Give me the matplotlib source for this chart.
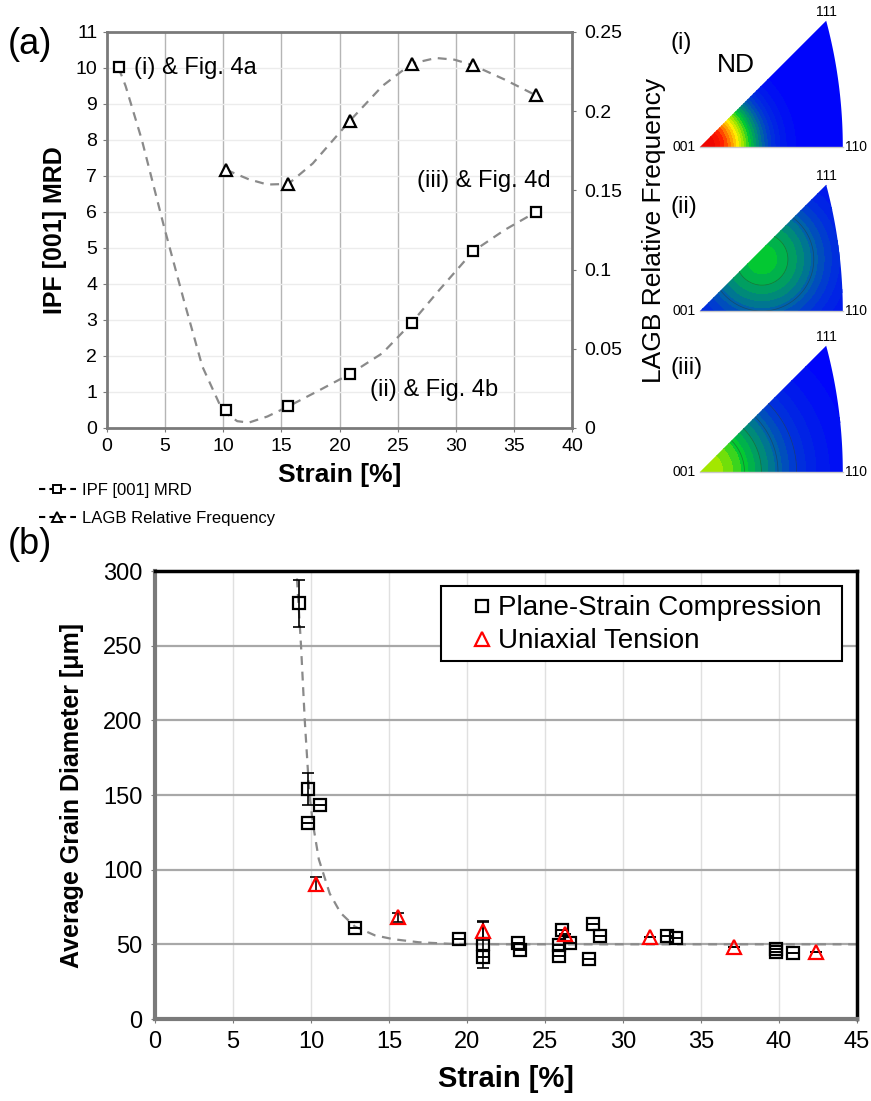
import numpy as np
import matplotlib
matplotlib.use('Agg')
import matplotlib.pyplot as plt
from matplotlib.lines import Line2D
from matplotlib.patches import Polygon, Rectangle
from matplotlib.colors import LinearSegmentedColormap

plt.rcParams['font.family'] = ['Liberation Sans', 'DejaVu Sans']

# ---- panel (a) data ----
strain_a = [1.0, 10.25, 15.6, 20.9, 26.2, 31.5, 36.9]
ipf_mrd = [10.02, 0.51, 0.60, 1.50, 2.92, 4.91, 6.01]
lagb_strain = [10.25, 15.6, 20.9, 26.2, 31.5, 36.9]
lagb_freq = [0.163, 0.154, 0.194, 0.230, 0.229, 0.210]

# trend lines
ipf_fit_x = [1.0, 1.6, 3.0, 4.9, 6.6, 8.2, 9.7, 10.5, 11.2, 12.2, 13.8, 15.6, 18.1, 20.9, 23.7, 26.2, 28.6, 31.5, 34.2, 36.9]
ipf_fit_y = [10.0, 9.5, 8.0, 5.6, 3.56, 1.71, 0.65, 0.35, 0.19, 0.15, 0.32, 0.60, 1.02, 1.50, 2.08, 2.92, 3.84, 4.91, 5.50, 6.00]
lagb_fit_x = [10.25, 12.2, 13.8, 15.6, 17.7, 20.9, 23.7, 26.2, 28.3, 29.9, 31.5, 34.2, 36.9]
lagb_fit_y = [0.163, 0.157, 0.1537, 0.1541, 0.167, 0.194, 0.216, 0.230, 0.2336, 0.2325, 0.229, 0.220, 0.210]

# ---- panel (b) data ----
psc_strain = [9.2, 9.8, 9.8, 10.6, 12.8, 19.5, 21.0, 21.0, 23.3, 23.4, 25.9, 25.9, 26.1, 26.6, 27.8, 28.1, 28.5, 32.8, 33.4, 39.8, 39.8, 40.9]
psc_diam = [278.8, 154, 131, 143.5, 60.8, 53.4, 50.3, 41.8, 51.2, 46.3, 49.6, 42.3, 59.7, 50.7, 40.5, 63.5, 55.7, 55.9, 54.1, 46.7, 45.2, 44.0]
psc_err_lo = [16, 11, 0, 0, 0, 0, 16, 0, 0, 0, 0, 0, 0, 0, 0, 0, 0, 0, 0, 0, 0, 0]
psc_err_hi = [15, 11, 0, 0, 0, 0, 15, 0, 0, 0, 0, 0, 0, 0, 0, 0, 0, 0, 0, 0, 0, 0]
ut_strain = [10.3, 15.6, 21.0, 26.3, 31.7, 37.1, 42.4]
ut_diam = [90.5, 68.2, 59.2, 57.0, 55.2, 48.5, 44.7]
ut_err = [4.5, 3, 6, 0, 0, 0, 0]
fit_b_x = [9.1, 9.36, 9.6, 9.9, 10.15, 10.5, 11.2, 11.9, 12.8, 14.1, 15.3, 16.9, 19.0, 22.0, 45.0]
fit_b_y = [295, 250, 200, 150, 129, 107, 84, 71, 62, 56, 53.4, 51.4, 50.3, 50.0, 50.0]

# ---- IPF maps: peak position, peak level, width, shape ----
ipf_labels = ['(i)', '(ii)', '(iii)']
ipf_peak_x = [0.0, 0.18, 0.0]
ipf_peak_y = [0.0, 0.15, 0.0]
ipf_level = [1.0, 0.5, 0.64]
ipf_width = [0.168, 0.21, 0.26]
ipf_power = [2.33, 2.0, 2.0]
ipf_lines = [[], [0.3, 0.44], [0.2, 0.3, 0.4, 0.5]]

ipf_cmap = LinearSegmentedColormap.from_list('ipf', [
    (0.0, (0.0, 0.0, 1.0)), (0.2, (0.0, 0.2, 0.85)), (0.32, (0.0, 0.42, 0.62)),
    (0.42, (0.0, 0.62, 0.38)), (0.5, (0.0, 0.78, 0.2)), (0.6, (0.55, 0.9, 0.0)),
    (0.7, (1.0, 0.93, 0.0)), (0.8, (1.0, 0.55, 0.0)), (0.9, (1.0, 0.12, 0.0)),
    (1.0, (0.92, 0.0, 0.0))])

W, H = 871, 1101
fig = plt.figure(figsize=(W / 100, H / 100), dpi=100)

def px_axes(left, top, right, bottom):
    return fig.add_axes([left / W, 1 - bottom / H, (right - left) / W, (bottom - top) / H])

gray = '#7a7a7a'
dash_col = '#8a8a8a'

# ================= panel (a) =================
ax = px_axes(107, 32, 572, 428)
ax.set_xlim(0, 40)
ax.set_ylim(0, 11)
ax.set_xticks(range(0, 41, 5))
ax.set_yticks(range(0, 12))
for v in range(5, 40, 5):
    ax.axvline(v, color='#b5b5b5', lw=1, zorder=0)
for v in range(1, 11):
    ax.axhline(v, color='#ececec', lw=1, zorder=0)
ax.plot(ipf_fit_x, ipf_fit_y, ls=(0, (4, 3)), color=dash_col, lw=1.6, zorder=2)
ax.plot(strain_a, ipf_mrd, ls='none', marker='s', ms=6.5, mfc='white', mec='black', mew=1.6, zorder=3)
for s in ax.spines.values():
    s.set_color(gray)
    s.set_linewidth(2)
ax.tick_params(axis='both', length=3, color=gray, labelsize=14, pad=4)
ax.set_xlabel('Strain [%]', fontsize=19, fontweight='bold', labelpad=6)
ax.set_ylabel('IPF [001] MRD', fontsize=18, fontweight='bold', labelpad=6)
ax.text(2.3, 10.0, '(i) & Fig. 4a', fontsize=17, va='center', ha='left')
ax.text(38.2, 6.85, '(iii) & Fig. 4d', fontsize=17, va='center', ha='right')
ax.text(22.6, 1.05, '(ii) & Fig. 4b', fontsize=17, va='center', ha='left')

ax2 = ax.twinx()
ax2.set_ylim(0, 0.25)
ax2.set_yticks([0, 0.05, 0.1, 0.15, 0.2, 0.25])
ax2.set_yticklabels(['0', '0.05', '0.1', '0.15', '0.2', '0.25'])
ax2.plot(lagb_fit_x, lagb_fit_y, ls=(0, (4, 3)), color=dash_col, lw=1.6, zorder=2)
ax2.plot(lagb_strain, lagb_freq, ls='none', marker='^', ms=8.5, mfc='white', mec='black', mew=1.6, zorder=3)
for s in ax2.spines.values():
    s.set_visible(False)
ax2.tick_params(axis='y', length=3, color=gray, labelsize=14, pad=6)
ax2.set_ylabel('LAGB Relative Frequency', fontsize=19, labelpad=14)

fig.text(8 / W, 1 - 45 / H, '(a)', fontsize=26, va='center', ha='left')

handles_a = [
    Line2D([], [], ls=(0, (3, 2)), color='black', lw=1.5, marker='s', ms=6, mfc='white', mec='black', mew=1.4),
    Line2D([], [], ls=(0, (3, 2)), color='black', lw=1.5, marker='^', ms=7, mfc='white', mec='black', mew=1.4),
]
fig.legend(handles_a, ['IPF [001] MRD', 'LAGB Relative Frequency'], loc='upper left',
           bbox_to_anchor=(24 / W, 1 - 468 / H), frameon=False, fontsize=12,
           handlelength=2.2, handletextpad=0.4, labelspacing=0.75)

# ================= IPF triangles =================
R2 = np.sqrt(2)
ang = np.linspace(0, np.arctan2(0.366, 1.366), 40)
tri_x = [0.0] + list(-1 + R2 * np.cos(ang)) + [0.0]
tri_y = [0.0] + list(R2 * np.sin(ang)) + [0.0]
gx, gy = np.meshgrid(np.linspace(-0.02, 0.44, 300), np.linspace(-0.02, 0.40, 300))
tops = [147, 311, 472]
for i in range(3):
    bx = px_axes(693, tops[i] - 0.38 * 345, 693 + 0.46 * 345, tops[i] + 0.02 * 345)
    bx.set_xlim(-0.02, 0.44)
    bx.set_ylim(-0.02, 0.38)
    bx.axis('off')
    r = np.hypot(gx - ipf_peak_x[i], gy - ipf_peak_y[i]) / ipf_width[i]
    field = ipf_level[i] * np.exp(-r ** ipf_power[i])
    tri = Polygon(np.column_stack([tri_x, tri_y]), closed=True, facecolor='none', edgecolor='none')
    bx.add_patch(tri)
    cs = bx.contourf(gx, gy, field, levels=np.linspace(0.0, 1.0, 26), cmap=ipf_cmap, vmin=0, vmax=1)
    cs.set_clip_path(tri)
    if ipf_lines[i]:
        cl = bx.contour(gx, gy, field, levels=ipf_lines[i], colors='#303030', linewidths=0.5, alpha=0.5)
        cl.set_clip_path(tri)
    bx.plot([0, 0.4142], [0, 0], color='#c8c8c8', lw=1, zorder=5)
    bx.text(-0.012, 0.0, '001', fontsize=10, ha='right', va='center')
    bx.text(0.42, 0.0, '110', fontsize=10, ha='left', va='center')
    bx.text(0.366, 0.372, '111', fontsize=10, ha='center', va='bottom')
    fig.text(670 / W, 1 - (tops[i] - 104) / H, ipf_labels[i], fontsize=17, ha='left', va='center')
fig.text(736 / W, 1 - 65 / H, 'ND', fontsize=19, ha='center', va='center')

# ================= panel (b) =================
bxm = px_axes(155, 571, 857, 1019)
bxm.set_xlim(0, 45)
bxm.set_ylim(0, 300)
bxm.set_xticks(range(0, 46, 5))
bxm.set_yticks(range(0, 301, 50))
for v in range(5, 45, 5):
    bxm.axvline(v, color='#e0e0e0', lw=1, zorder=0)
for v in range(50, 300, 50):
    bxm.axhline(v, color='#a8a8a8', lw=1.6, zorder=0)
bxm.plot(fit_b_x, fit_b_y, ls=(0, (4, 3)), color=dash_col, lw=1.6, zorder=2)
bxm.errorbar(psc_strain, psc_diam, yerr=[psc_err_lo, psc_err_hi], ls='none', ecolor='black',
             elinewidth=1.2, capsize=4, capthick=1.2, zorder=3)
bxm.errorbar(ut_strain, ut_diam, yerr=ut_err, ls='none', ecolor='black',
             elinewidth=1.2, capsize=4, capthick=1.2, zorder=3)
bxm.plot(psc_strain, psc_diam, ls='none', marker='s', ms=9, mfc='none', mec='black', mew=1.6, zorder=4,
         label='Plane-Strain Compression')
bxm.plot(ut_strain, ut_diam, ls='none', marker='^', ms=10.5, mfc='none', mec='red', mew=1.6, zorder=4,
         label='Uniaxial Tension')
bxm.spines['top'].set_color('black')
bxm.spines['right'].set_color('black')
bxm.spines['top'].set_linewidth(2.5)
bxm.spines['right'].set_linewidth(2.5)
bxm.spines['left'].set_color('#7a7a7a')
bxm.spines['bottom'].set_color('#7a7a7a')
bxm.spines['left'].set_linewidth(3)
bxm.spines['bottom'].set_linewidth(3)
bxm.tick_params(axis='both', length=3, color=gray, labelsize=17, pad=6)
bxm.set_xlabel('Strain [%]', fontsize=21, fontweight='bold', labelpad=8)
bxm.set_ylabel('Average Grain Diameter [\u03bcm]', fontsize=18, fontweight='bold', labelpad=14)
bxm.add_patch(Rectangle(((441 - 155) / 702, (1019 - 661) / 448), (842 - 441) / 702, (661 - 586) / 448,
                        transform=bxm.transAxes, facecolor='white', edgecolor='black', lw=1.5, zorder=6))
leg = bxm.legend(loc='upper left', bbox_to_anchor=((465 - 155) / 702, (1019 - 587) / 448), fontsize=20,
                 frameon=False, handlelength=0.6, handletextpad=0.3, labelspacing=0.25,
                 borderpad=0.3, borderaxespad=0)
leg.set_zorder(7)
fig.text(8 / W, 1 - 545 / H, '(b)', fontsize=26, va='center', ha='left')

fig.savefig('out.png', dpi=100)
